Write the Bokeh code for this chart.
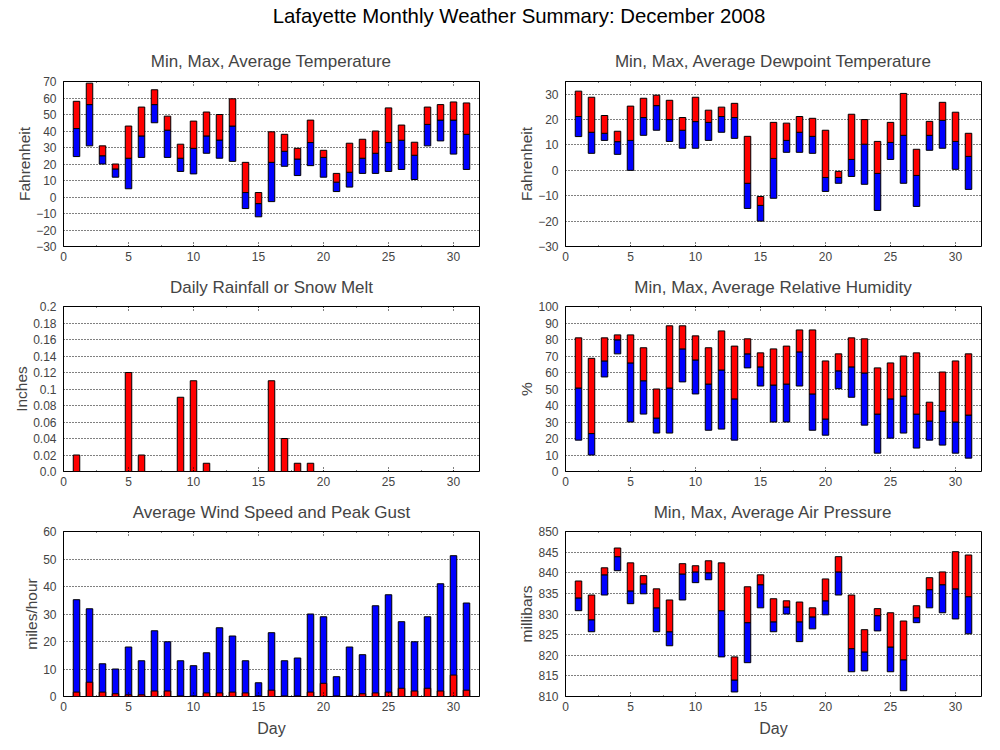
from bokeh.plotting import figure
from bokeh.layouts import column, row
from bokeh.models import Div, SingleIntervalTicker, FixedTicker, LinearAxis, Range1d
from bokeh.embed import file_html
from bokeh.resources import INLINE

days = list(range(1, 32))

temp_max = [58, 69, 31, 20, 43, 54.5, 65, 49, 32, 46, 51.5, 50, 59.5, 21, 2.7, 39.5, 38, 29.5, 46.6, 28.3, 14.3, 32.6, 35, 40, 54, 43.6, 33.2, 54.5, 56, 57.6, 57]
temp_avg = [41.5, 56, 25, 17, 23.5, 37, 56, 40.5, 23.5, 29.5, 37, 34.5, 43, 2.7, -4, 21, 27.7, 23, 33, 24, 9, 15, 23.5, 26.5, 33, 34.4, 25.3, 44, 46.6, 46.6, 38]
temp_min = [24.5, 31, 20, 12, 5, 24, 45, 24, 15.5, 14, 26.5, 23.5, 21.6, -7, -12, -2.8, 18.6, 13, 19, 12, 3.3, 6, 14.3, 14.3, 15.5, 16.7, 10.6, 31, 34, 26, 16.7]

dew_max = [31.2, 28.8, 21.6, 15.4, 25.3, 28.4, 29.6, 27.6, 20.8, 28.8, 23.7, 24.9, 26.4, 13.4, -10.3, 18.9, 18.6, 21.2, 20.5, 15.8, -0.4, 22.1, 20, 11.4, 18.9, 30.3, 8.3, 19.3, 26.8, 22.9, 14.6]
dew_avg = [21.2, 15, 14.6, 11.3, 11.8, 20.8, 25.5, 20, 15.8, 19.2, 18.9, 21.2, 20.8, -5.1, -13.8, 4.7, 11.8, 15, 13.4, -2.8, -2.8, 4.3, 10.3, -1.2, 11, 13.8, -2, 13.8, 19.7, 11.4, 5.5]
dew_min = [13.3, 6.7, 11.8, 6.3, 0, 13.8, 15.8, 11.4, 8.7, 8.7, 11.8, 15, 12.6, -15, -20, -11, 7.1, 7.1, 6.7, -8.3, -5.1, -2.4, -5.5, -15.8, 4.3, -5.1, -14.2, 7.9, 8.7, 0.4, -7.5]

rain = [0.02, 0, 0, 0, 0.12, 0.02, 0, 0, 0.09, 0.11, 0.01, 0, 0, 0, 0, 0.11, 0.04, 0.01, 0.01, 0, 0, 0, 0, 0, 0, 0, 0, 0, 0, 0, 0]

hum_max = [81, 68.6, 81, 82.8, 82.8, 75, 50, 88.3, 88.3, 82.2, 75, 85.2, 76, 80.4, 71.9, 74.3, 76, 85.8, 85.8, 67, 71.3, 81, 80.4, 62.8, 65.8, 70, 71.9, 42, 60.3, 67, 71.3]
hum_avg = [50.6, 23, 67, 79.8, 65.8, 55, 32.4, 50.6, 74.3, 67.6, 53, 61.5, 44, 71.3, 63.4, 52.4, 53, 72.5, 47, 31.8, 61, 63.4, 59.7, 34.8, 44, 45.7, 34.8, 30.6, 36.6, 30, 34.2]
hum_min = [19, 10, 57.3, 71.3, 30, 34.8, 23.3, 23.3, 54.3, 47, 25, 25.7, 19, 62.8, 51.8, 30, 30, 51.8, 25, 22, 50.2, 45, 28.1, 11.1, 20.2, 23.3, 14.2, 19, 16, 11.1, 8.1]

wind_gust = [35.2, 31.9, 11.9, 10, 18, 13, 23.9, 19.9, 13, 11.2, 15.9, 25, 22, 13, 5, 23.2, 13, 14, 30, 29, 7.2, 18, 15.2, 33, 37, 27.2, 19.9, 29, 41, 51.2, 34]
wind_avg = [1.6, 5.2, 1.6, 1, 0.6, 0.6, 2, 2, 0.2, 0.2, 1.3, 1.3, 1.6, 1.3, 0.2, 2.3, 0.2, 0.2, 1.6, 4.8, 0.2, 0.2, 1, 1.3, 1.6, 3, 2, 3, 2, 7.8, 2.3]

pres_max = [838, 834.6, 841.2, 846, 842.4, 839.3, 836.1, 833.4, 842.2, 841.7, 842.9, 842.4, 819.6, 836.6, 839.5, 833.7, 833.2, 832.9, 831.5, 838.5, 843.9, 834.6, 826.2, 831.3, 830.3, 828.3, 832, 838.8, 840.2, 845.1, 844.3]
pres_avg = [833.9, 828.6, 839.5, 843.9, 835.6, 837.3, 831.5, 825.7, 839.7, 840.2, 840, 830.8, 814, 827.9, 837.1, 828.1, 831.7, 828.1, 829.3, 833.2, 840.2, 821.6, 820.8, 829.6, 822, 818.9, 829.1, 835.9, 837.1, 836.1, 834.2]
pres_min = [830.8, 825.7, 834.6, 840.5, 832.5, 834.9, 825.7, 822.3, 833.4, 837.6, 838.3, 819.6, 811.1, 818.2, 831.5, 825.7, 830, 823.3, 826.4, 829.8, 834.6, 816, 816.2, 825.9, 816, 811.4, 827.9, 831.5, 830.3, 828.8, 825.2]

temp_ticks = list(range(-30, 71, 10))
dew_ticks = list(range(-30, 31, 10))
rain_ticks = [0, 0.02, 0.04, 0.06, 0.08, 0.1, 0.12, 0.14, 0.16, 0.18, 0.2]
rain_tick_labels = ["0.0", "0.02", "0.04", "0.06", "0.08", "0.1", "0.12", "0.14", "0.16", "0.18", "0.2"]
hum_ticks = list(range(0, 101, 10))
wind_ticks = list(range(0, 61, 10))
pres_ticks = list(range(810, 851, 5))

FONT = "Liberation Sans"
RED = "#ff0000"
BLUE = "#0000ff"
BW = 0.5


def make_fig(title, ylabel, yr, yticks, left, right, top, bottom, xlabel=None, labels=None, tstand=19):
    p = figure(frame_width=416, frame_height=165,
               x_range=Range1d(0, 32), y_range=Range1d(*yr),
               output_backend="svg", toolbar_location=None,
               min_border_left=left, min_border_right=right,
               min_border_top=top, min_border_bottom=bottom,
               background_fill_color="white", border_fill_color="white")
    p.title.text = title
    p.title.text_font = FONT
    p.title.text_font_size = "17px"
    p.title.text_font_style = "normal"
    p.title.align = "center"
    p.title.standoff = tstand
    p.outline_line_color = "black"
    p.outline_line_alpha = 1
    p.outline_line_width = 1

    xa = p.xaxis[0]
    xa.ticker = SingleIntervalTicker(interval=5, num_minor_ticks=2)
    xa.axis_line_color = None
    xa.major_tick_in = 5
    xa.major_tick_out = 0
    xa.minor_tick_in = 2
    xa.minor_tick_out = 0
    xa.major_tick_line_dash = "1 2"
    xa.minor_tick_line_dash = "1 2"
    xa.major_label_text_font = FONT
    xa.major_label_text_font_size = "12px"
    xa.major_label_standoff = 5
    if xlabel:
        xa.axis_label = xlabel
        xa.axis_label_text_font = FONT
        xa.axis_label_text_font_size = "16px"
        xa.axis_label_text_font_style = "normal"
        xa.axis_label_standoff = 6

    ta = LinearAxis(ticker=SingleIntervalTicker(interval=5, num_minor_ticks=2),
                    major_label_text_font_size="0px", major_label_text_color=None,
                    major_label_standoff=0,
                    axis_line_color=None, major_tick_in=5, major_tick_out=0,
                    minor_tick_in=2, minor_tick_out=0,
                    major_tick_line_dash="1 2", minor_tick_line_dash="1 2")
    p.add_layout(ta, "above")

    ya = p.yaxis[0]
    ya.ticker = FixedTicker(ticks=yticks)
    if labels:
        ya.major_label_overrides = {t: s for t, s in zip(yticks, labels)}
    ya.axis_line_color = None
    ya.major_tick_in = 0
    ya.major_tick_out = 0
    ya.minor_tick_line_color = None
    ya.major_label_text_font = FONT
    ya.major_label_text_font_size = "12px"
    ya.major_label_standoff = 7
    ya.axis_label = ylabel
    ya.axis_label_text_font = FONT
    ya.axis_label_text_font_size = "15.5px"
    ya.axis_label_text_font_style = "normal"
    ya.axis_label_standoff = 0

    p.xgrid.visible = False
    p.ygrid.grid_line_color = "black"
    p.ygrid.grid_line_alpha = 1
    p.ygrid.grid_line_dash = "1 2"
    p.ygrid.grid_line_width = 1
    return p


def range_bars(p, lo, mid, hi):
    p.vbar(x=days, bottom=lo, top=mid, width=BW, fill_color=BLUE, line_color="black", line_width=1)
    p.vbar(x=days, bottom=mid, top=hi, width=BW, fill_color=RED, line_color="black", line_width=1)


LB, LR = 63, 29
RB, RR = 57, 11

p1 = make_fig("Min, Max, Average Temperature", "Fahrenheit", (-30, 70), temp_ticks, LB, LR, 48, 19, tstand=21)
range_bars(p1, temp_min, temp_avg, temp_max)

p2 = make_fig("Min, Max, Average Dewpoint Temperature", "Fahrenheit", (-30, 35), dew_ticks, RB, RR, 48, 19, tstand=21)
range_bars(p2, dew_min, dew_avg, dew_max)

p3 = make_fig("Daily Rainfall or Snow Melt", "Inches", (0, 0.2), rain_ticks, LB, LR, 41, 19, labels=rain_tick_labels)
p3.vbar(x=days, bottom=0, top=rain, width=BW, fill_color=RED, line_color="black", line_width=1)

p4 = make_fig("Min, Max, Average Relative Humidity", "%", (0, 100), hum_ticks, RB, RR, 41, 19)
range_bars(p4, hum_min, hum_avg, hum_max)

p5 = make_fig("Average Wind Speed and Peak Gust", "miles/hour", (0, 60), wind_ticks, LB, LR, 41, 46, xlabel="Day")
p5.vbar(x=days, bottom=0, top=wind_gust, width=BW, fill_color=BLUE, line_color="black", line_width=1)
p5.vbar(x=days, bottom=0, top=wind_avg, width=BW, fill_color=RED, line_color="black", line_width=1)

p6 = make_fig("Min, Max, Average Air Pressure", "millibars", (810, 850), pres_ticks, RB, RR, 41, 46, xlabel="Day")
range_bars(p6, pres_min, pres_avg, pres_max)

title = Div(text='<div style="width:992px;box-sizing:border-box;padding-left:46px;text-align:center;'
                 'font-family:\'Liberation Sans\';font-size:20.4px;line-height:33px;color:black;">'
                 'Lafayette Monthly Weather Summary: December 2008</div>',
            width=992, height=33, margin=(0, 0, 0, 0))

layout = column(title, row(p1, p2), row(p3, p4), row(p5, p6))

open("out.html", "w").write(file_html(layout, INLINE))
